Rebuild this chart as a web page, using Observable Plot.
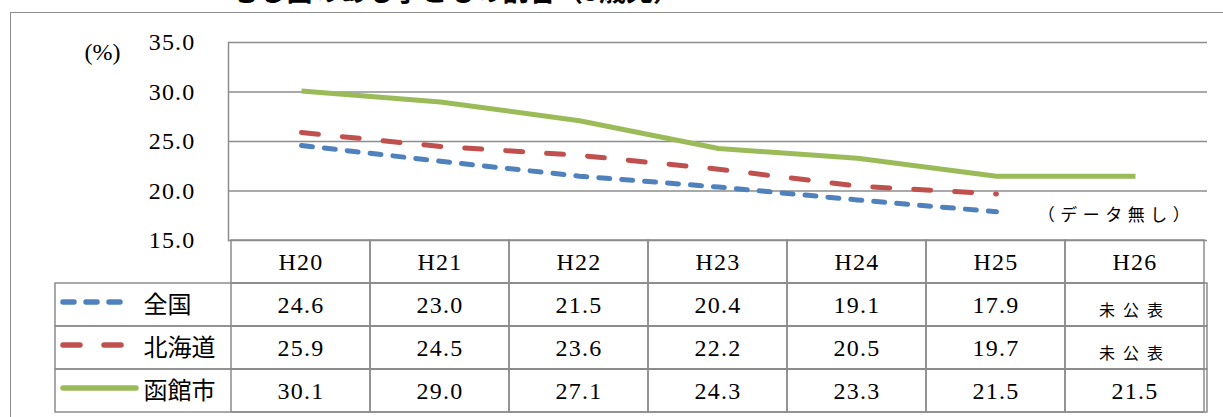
<!DOCTYPE html>
<html><head><meta charset="utf-8">
<script src="https://cdn.jsdelivr.net/npm/d3@7"></script>
<script src="https://cdn.jsdelivr.net/npm/@observablehq/plot@0.6"></script>
<style>
body{margin:0;background:#fff;}
#wrap{position:relative;width:1223px;height:417px;overflow:hidden;background:#fff;}
#frame{position:absolute;left:10px;top:12px;width:1300px;height:500px;border:1.5px solid #8c8c8c;box-sizing:border-box;}
#title{position:absolute;left:0;width:912px;text-align:center;top:-24px;font:700 27px "Noto Sans CJK JP";line-height:27px;white-space:nowrap;color:#000;}
#chart,#table{position:absolute;left:0;}
#chart{top:0}
#table{top:240px}
</style></head><body>
<div id="wrap"><div id="frame"></div><div id="title">むし歯のある子どもの割合（5歳児）</div><div id="table"></div><div id="chart"></div></div>
<script>
const years = ["H20","H21","H22","H23","H24","H25","H26"];
const seriesNames = ["全国","北海道","函館市"];
const zenkoku = [24.6,23.0,21.5,20.4,19.1,17.9,null];
const hokkaido = [25.9,24.5,23.6,22.2,20.5,19.7,null];
const hakodate = [30.1,29.0,27.1,24.3,23.3,21.5,21.5];
const yTicks = [15,20,25,30,35];
const missingLabel = "未公表";
const noDataNote = "（データ無し）";
const unitLabel = "(%)";

const values = {"全国": zenkoku, "北海道": hokkaido, "函館市": hakodate};
const colors = {"全国":"#4f81bd","北海道":"#c0504d","函館市":"#9bbb59"};
const dashes = {"全国":"11,12","北海道":"17,24","函館市":null};
const serif = "'Liberation Serif', 'DejaVu Serif', serif";
const cjk = "'Noto Sans CJK JP', sans-serif";
const grid = "#8c8c8c";
const fmt = d3.format(".1f");

const points = seriesNames.flatMap(s => years.map((y,i)=>({series:s, year:y, value: values[s][i]})));

const chart = Plot.plot({
  width:1223, height:242, marginLeft:228, marginRight:16, marginTop:42, marginBottom:2,
  style:{fontFamily: serif, fontSize:"24px", background:"transparent", overflow:"visible", color:"#000"},
  x:{type:"point", domain:years, padding:0.5, axis:null},
  y:{domain:[15,35]},
  marks:[
    Plot.ruleY(yTicks,{stroke:grid, strokeWidth:1.5}),
    Plot.frame({anchor:"left", stroke:grid, strokeWidth:1.5}),
    Plot.axisY({ticks:yTicks, tickFormat:fmt, tickSize:0, tickPadding:33, label:null, fill:"#000", fontSize:24, fontFamily:serif}),
    ...seriesNames.map(s => Plot.line(points.filter(d=>d.series===s && d.value!=null), {
      x:"year", y:"value", stroke: colors[s], strokeWidth:5,
      strokeDasharray: dashes[s] || undefined, strokeLinecap: dashes[s] ? "round":"butt", strokeLinejoin:"round"})),
    Plot.text([unitLabel], {frameAnchor:"top-left", textAnchor:"middle", lineAnchor:"middle", dx:-126, dy:10, text:d=>d, fontSize:24, fontFamily:serif, fill:"#000"}),
    Plot.text([noDataNote], {x: ()=>"H26", frameAnchor:"bottom", lineAnchor:"middle", dx:-19, dy:-25, text:d=>d, fontFamily:cjk, fontSize:17, fill:"#000"})
  ]
});
document.getElementById("chart").appendChild(chart);
const cs = d3.select(chart);
cs.selectAll("text").filter(function(){return this.textContent===noDataNote;}).attr("letter-spacing","5.5px");
cs.selectAll("text").filter(function(){return /^[\d.]+$/.test(this.textContent);}).attr("letter-spacing","1.2px");

const rows = ["header", ...seriesNames];
const cells = rows.flatMap(r => years.map((y,i)=>{
  if (r==="header") return {row:r, year:y, text:y, missing:false};
  const v = values[r][i];
  return {row:r, year:y, text: v==null ? missingLabel : fmt(v), missing: v==null};
}));

const legendRule = (s, right) => Plot.ruleY([s], {y:d=>d, stroke:colors[s], strokeWidth:5.5,
  strokeDasharray: dashes[s] || undefined, strokeLinecap:"round", insetLeft:8, insetRight:right, dy:-3});

const table = Plot.plot({
  width:1223, height:176, marginLeft:55, marginRight:16, marginTop:0, marginBottom:4,
  style:{fontFamily: serif, fontSize:"24px", background:"transparent", overflow:"visible", color:"#000"},
  x:{type:"band", domain:years, range:[228,1207], padding:0, axis:null},
  y:{type:"band", domain:rows, padding:0, axis:null},
  marks:[
    Plot.cell(seriesNames, {y:d=>d, stroke:grid, strokeWidth:1.5, fill:"none"}),
    Plot.cell(cells, {x:"year", y:"row", stroke:grid, strokeWidth:1.5, fill:"none"}),
    Plot.text(cells.filter(d=>!d.missing), {x:"year", y:"row", text:"text", fontSize:24, fontFamily:serif, fill:"#000"}),
    Plot.text(cells.filter(d=>d.missing), {x:"year", y:"row", text:"text", fontSize:16, fontFamily:cjk, dy:6, fill:"#000"}),
    legendRule("全国", 1081),
    legendRule("北海道", 1081),
    legendRule("函館市", 1071),
    Plot.text(seriesNames, {y:d=>d, text:d=>d, frameAnchor:"left", dx:88, textAnchor:"start", fontFamily:cjk, fontSize:24, fill:"#000"})
  ]
});
document.getElementById("table").appendChild(table);
const ts = d3.select(table);
ts.selectAll("text").filter(function(){return this.textContent===missingLabel;}).attr("letter-spacing","8px");
ts.selectAll("text").filter(function(){return /^[\dH.]+$/.test(this.textContent);}).attr("letter-spacing","1.2px");
</script>
</body></html>
